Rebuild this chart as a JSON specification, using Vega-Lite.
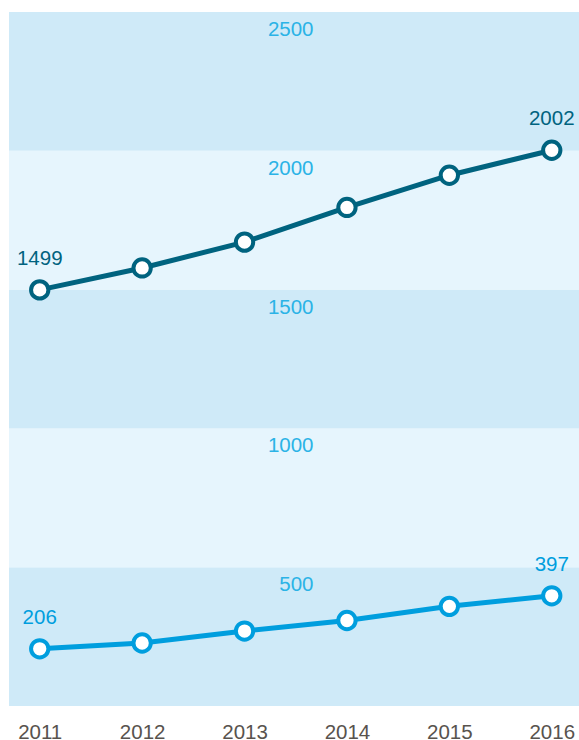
{
  "$schema": "https://vega.github.io/schema/vega-lite/v6.json",
  "width": 570,
  "height": 694,
  "autosize": "none",
  "padding": {"left": 9, "top": 12, "right": 0, "bottom": 34},
  "background": "white",
  "config": {"view": {"stroke": null}, "font": "Liberation Sans"},
  "datasets": {
    "bands": [
      {"lo": 0, "hi": 500, "shade": "dark"},
      {"lo": 500, "hi": 1000, "shade": "light"},
      {"lo": 1000, "hi": 1500, "shade": "dark"},
      {"lo": 1500, "hi": 2000, "shade": "light"},
      {"lo": 2000, "hi": 2500, "shade": "dark"}
    ],
    "series": [
      {"year": 2011, "series": "total", "value": 1499},
      {"year": 2012, "series": "total", "value": 1578},
      {"year": 2013, "series": "total", "value": 1671},
      {"year": 2014, "series": "total", "value": 1796},
      {"year": 2015, "series": "total", "value": 1912},
      {"year": 2016, "series": "total", "value": 2002},
      {"year": 2011, "series": "sub", "value": 206},
      {"year": 2012, "series": "sub", "value": 227},
      {"year": 2013, "series": "sub", "value": 270},
      {"year": 2014, "series": "sub", "value": 308},
      {"year": 2015, "series": "sub", "value": 359},
      {"year": 2016, "series": "sub", "value": 397}
    ]
  },
  "layer": [
    {
      "data": {"name": "bands"},
      "mark": {"type": "rect"},
      "encoding": {
        "y": {"field": "lo", "type": "quantitative", "scale": {"domain": [0, 2500], "nice": false, "zero": true},
          "axis": {"orient": "left", "offset": -304, "zindex": 1, "values": [500, 1000, 1500, 2000, 2500], "format": "d", "title": null,
            "domain": false, "ticks": false, "tickSize": 0, "grid": false, "labelPadding": 0,
            "labelAlign": "right", "labelBaseline": "alphabetic", "labelOffset": 23.5,
            "labelFontSize": 20.5, "labelColor": "#2bb3e6", "labelFont": "Liberation Sans"}},
        "y2": {"field": "hi"},
        "color": {"field": "shade", "type": "nominal", "scale": {"domain": ["dark", "light"], "range": ["#cfeaf8", "#e6f5fd"]}, "legend": null}
      }
    },
    {
      "data": {"name": "series"},
      "mark": {"type": "line", "strokeWidth": 5},
      "encoding": {
        "x": {"field": "year", "type": "quantitative", "scale": {"domain": [2010.7, 2016.266], "nice": false, "zero": false},
          "axis": {"values": [2011, 2012, 2013, 2014, 2015, 2016], "format": "d", "title": null, "domain": false,
            "ticks": false, "tickSize": 0, "grid": false, "labelPadding": 32.5, "labelBaseline": "alphabetic",
            "labelFontSize": 20.5, "labelColor": "#58534e", "labelFont": "Liberation Sans", "labelFlush": false}},
        "y": {"field": "value", "type": "quantitative"},
        "color": {"field": "series", "type": "nominal", "scale": {"domain": ["total", "sub"], "range": ["#00637f", "#009ede"]}, "legend": null},
        "detail": {"field": "series"}
      }
    },
    {
      "data": {"name": "series"},
      "mark": {"type": "point", "shape": "circle", "filled": false, "fill": "white", "fillOpacity": 1, "strokeWidth": 4, "size": 300, "opacity": 1},
      "encoding": {
        "x": {"field": "year", "type": "quantitative"},
        "y": {"field": "value", "type": "quantitative"},
        "stroke": {"field": "series", "type": "nominal", "scale": {"domain": ["total", "sub"], "range": ["#00637f", "#009ede"]}, "legend": null}
      }
    },
    {
      "data": {"name": "series"},
      "transform": [{"filter": {"field": "year", "oneOf": [2011, 2016]}}],
      "mark": {"type": "text", "fontSize": 20.5, "dy": -31, "baseline": "middle", "align": "center", "font": "Liberation Sans"},
      "encoding": {
        "x": {"field": "year", "type": "quantitative"},
        "y": {"field": "value", "type": "quantitative"},
        "text": {"field": "value", "type": "quantitative"},
        "color": {"field": "series", "type": "nominal", "scale": {"domain": ["total", "sub"], "range": ["#00637f", "#009ede"]}, "legend": null}
      }
    }
  ],
  "resolve": {"scale": {"color": "independent"}}
}
